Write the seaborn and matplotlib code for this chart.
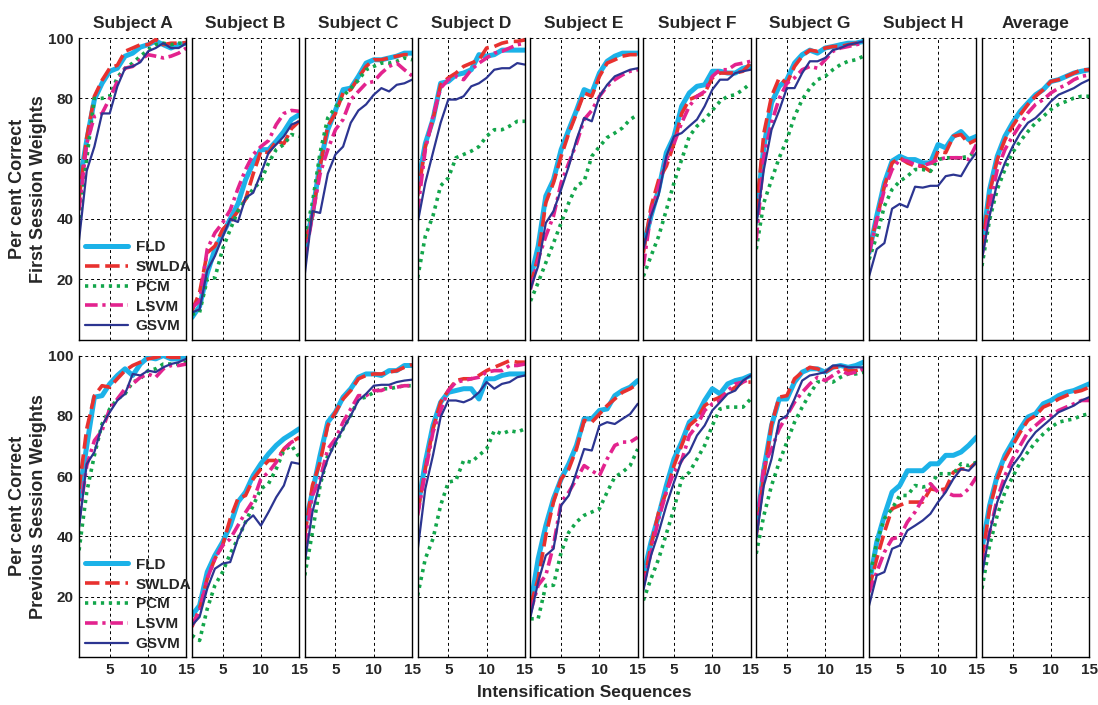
import matplotlib
matplotlib.use("Agg")
import matplotlib.pyplot as plt
import seaborn as sns

# -------------------------------
# Data (per cent correct, sequences 1..15)
# -------------------------------
seq = list(range(1, 16))
subjects = ["Subject A", "Subject B", "Subject C", "Subject D", "Subject E",
            "Subject F", "Subject G", "Subject H", "Average"]
methods = ["FLD", "SWLDA", "PCM", "LSVM", "GSVM"]
row_labels = ["Per cent Correct\nFirst Session Weights",
              "Per cent Correct\nPrevious Session Weights"]

# first session weights
fld_first = [
    [51, 66, 79.6, 85, 89, 90, 94, 95, 97, 97.8, 99, 97.8, 96.7, 97.8, 98.3],
    [7.3, 11, 22, 30, 35, 40, 45, 53, 58.6, 63, 63, 65.8, 69, 73, 74.6],
    [30, 42, 58.6, 69.6, 76, 82.9, 83.4, 87.3, 91.7, 92.8, 92.8, 93.4, 94, 95, 95],
    [51, 65, 73, 85, 85.6, 87.8, 88.4, 89.5, 94.5, 94, 94.5, 96, 96, 96, 96],
    [20, 31, 47.6, 53, 63, 69.6, 76, 82.9, 81.8, 88.4, 92.3, 94, 95, 95, 95],
    [31, 41, 49.8, 62, 67.4, 77.4, 81.8, 84, 84.5, 89, 89, 88.4, 88.4, 90, 90.6],
    [41, 64, 78.5, 84, 86.2, 91.7, 94.5, 96, 95, 96.7, 97.2, 97.8, 98.3, 98.3, 98.9],
    [28.8, 41, 52, 59.2, 60.8, 59.7, 59.7, 58.6, 58.6, 64.7, 63.6, 67.4, 69, 66.3, 67.4],
    [31, 49.8, 60.8, 67.4, 71.9, 75.7, 78.5, 81.2, 82.9, 85.6, 86.2, 87.3, 88.4, 89, 89.5],
]
swlda_first = [
    [46.5, 67, 80.7, 86, 90, 91, 95.6, 96.7, 97.8, 97.8, 99.5, 97.8, 98.3, 98.3, 98.5],
    [9.5, 15.6, 28.8, 31, 36.5, 39, 42.6, 46.5, 55, 62.5, 62, 65.8, 65, 70, 72.4],
    [32, 41, 57.5, 70.8, 75, 81.8, 82.9, 86.8, 90.6, 92.8, 92.8, 93.4, 94, 94.5, 94.5],
    [47.6, 64, 73, 84.5, 86.8, 88.4, 90.6, 91.7, 92.8, 96.7, 97.2, 98.3, 98.9, 98.9, 99.4],
    [17.8, 27.7, 45.4, 52, 60.8, 68.5, 75, 81.8, 80.7, 87.3, 91.7, 92.8, 94, 94.5, 94.5],
    [28.8, 44, 53, 57.5, 65, 75, 79.6, 80.7, 81.8, 86.8, 88.4, 88.4, 88.4, 89, 91.7],
    [42, 68.5, 80.7, 86.8, 85, 90.6, 94, 96, 95.6, 96.7, 97.2, 97.2, 97.8, 98.3, 98.3],
    [29.4, 40, 51, 58.6, 60.3, 58.6, 57.5, 57.5, 55.8, 62.5, 62, 67.4, 68, 65, 66.3],
    [30, 48.7, 59.7, 66.3, 70.8, 74.6, 78, 80.7, 82.9, 85.6, 86.2, 87.3, 88.4, 89.5, 89.5],
]
pcm_first = [
    [37.6, 60, 80, 80, 80.7, 87, 90, 91.7, 94, 96, 97.8, 98.3, 97.8, 98.3, 98.3],
    [8.4, 9, 20, 20.5, 30, 36.5, 42.6, 46.5, 50, 52.5, 58.6, 63, 64.7, 68, 67.4],
    [34, 45.4, 62, 73.5, 77, 80.7, 83.4, 86, 89.5, 90.6, 91.7, 91.7, 92.3, 93.4, 92.8],
    [20.5, 34.3, 41, 51, 53.6, 60.3, 61.4, 62.5, 64, 67.4, 69.6, 69.6, 70.8, 72.4, 72.4],
    [12.8, 18.9, 25.5, 32, 38.7, 45.4, 51, 52.5, 60.8, 64, 67, 68.5, 70.2, 73, 74.6],
    [21, 27.7, 34.3, 43, 52, 59.7, 67.4, 70.8, 73, 76, 79, 80.7, 81.2, 82.9, 85],
    [30, 45.4, 53, 60.3, 66.3, 74, 79.6, 83.4, 86.2, 87.3, 89.5, 91.2, 92.3, 92.8, 94],
    [26.6, 34.3, 44.3, 49.8, 52.5, 54.2, 56.4, 56.4, 55.8, 59.7, 60.3, 60.3, 60.3, 60.8, 62.5],
    [24.4, 39.8, 49.8, 56.4, 62, 65.8, 69, 71.9, 74, 76.3, 78, 79, 80.1, 80.7, 80.7],
]
lsvm_first = [
    [43, 65, 74, 75, 80, 85.6, 90, 90.6, 92.8, 94.5, 94, 93.4, 94, 95, 96.7],
    [10.6, 12.8, 30, 35.4, 38.7, 43, 50, 56.4, 61.4, 64, 66, 71.3, 75, 76, 75.7],
    [26.6, 41, 55, 63, 69.6, 73, 79.6, 82.3, 85, 85.6, 88.4, 90.6, 91.7, 89.5, 87.5],
    [42.6, 63, 74, 83.4, 86.2, 87.3, 86.2, 89.5, 91.7, 93.4, 95, 95.6, 96.7, 97.8, 98.3],
    [16.7, 26.6, 34.3, 41, 52, 58.6, 65, 73, 76, 80.7, 84, 86.2, 87.8, 89, 89.5],
    [24.4, 42, 51, 59.7, 65, 71.9, 77.4, 80.7, 82.3, 87.3, 89.5, 89.5, 91.2, 91.7, 92.3],
    [33, 60.8, 71.9, 80, 85, 86.8, 89.5, 90.6, 90, 92.8, 95.6, 96.7, 97.2, 97.8, 98.3],
    [28.8, 39.3, 49.8, 56.4, 59.7, 59.2, 58, 57.5, 58.6, 59.7, 60.3, 60.3, 60.3, 59.7, 64.7],
    [27.7, 44.3, 56.4, 63, 67.4, 71.3, 75.2, 78, 79.6, 81.8, 83.4, 84.5, 86.2, 87.3, 87.8],
]
gsvm_first = [
    [33, 56, 64, 75, 75, 84, 90, 90.6, 92, 95.6, 96.7, 98.3, 96.7, 96.7, 98.3],
    [9, 10, 23, 27.7, 34, 40, 39, 47, 48.7, 55, 62, 64.7, 67.4, 71.3, 72.4],
    [21.6, 42.6, 42, 55, 61.4, 64, 71.9, 76, 78, 81.2, 83.4, 82.3, 84.5, 85, 86.2],
    [38.7, 52, 62, 71.9, 79.6, 79.6, 80.7, 84, 85, 86.8, 89.5, 90, 90, 91.7, 91.2],
    [16.7, 24.4, 38.7, 42.6, 49.8, 57.5, 66.3, 73.5, 72.4, 80.7, 84.5, 87.3, 88.4, 89.5, 90],
    [30, 41, 48, 60.8, 67.4, 68.5, 70.8, 73, 77.4, 82.9, 86.2, 86.2, 88.4, 89, 89.5],
    [37.6, 56.4, 69.6, 76, 83.4, 83.4, 88.4, 92.3, 92.3, 93.4, 96, 96.7, 97.8, 98.3, 98.9],
    [21, 30, 32, 43.4, 45, 43.9, 50.7, 50.4, 51, 51, 54.2, 54.7, 54.2, 58.6, 62],
    [26.6, 41, 52, 58.6, 64, 68.5, 71.9, 73.5, 76, 79, 81.2, 82.3, 83.4, 85, 86.2],
]

# previous session weights
fld_prev = [
    [53, 70, 86.2, 86.7, 90.6, 93.4, 95.6, 93.4, 97.2, 99.4, 98.9, 100, 98.9, 98.9, 99.4],
    [13.8, 17.1, 28.2, 33.7, 38.1, 43.6, 51.4, 54.7, 60.2, 64.1, 67.4, 70.2, 72.4, 74, 75.7],
    [43.6, 54.7, 66.9, 77.9, 81.2, 86.2, 89, 92.8, 93.9, 93.9, 93.4, 95, 95, 96.7, 96.7],
    [49.2, 64.6, 76.8, 84.5, 87.8, 88.4, 89, 89, 85.6, 92.3, 92.3, 93.4, 93.9, 93.9, 93.9],
    [17.1, 32.6, 43.6, 52.5, 59.1, 64.1, 70.2, 79, 79, 81.8, 82.3, 86.7, 88.4, 89.5, 91.7],
    [27.1, 38.1, 47, 56.9, 65.7, 71.3, 77.9, 80.1, 85.1, 89, 87.3, 90.6, 91.7, 92.3, 93.4],
    [42.5, 62.4, 76.8, 85.6, 85.6, 91.2, 94.5, 95.6, 95.6, 94.5, 96.1, 96.7, 96.1, 96.7, 97.8],
    [23.8, 38.1, 47, 54.7, 56.9, 61.8, 61.8, 61.8, 64.1, 64.1, 66.9, 66.9, 68, 70.2, 72.9],
    [35.9, 50.3, 60.2, 66.9, 71.3, 75.7, 79.6, 80.7, 84, 85.1, 86.7, 87.8, 88.4, 89.5, 90.6],
]
swlda_prev = [
    [55.8, 75.7, 86.7, 90, 89.5, 92.3, 95, 96.7, 97.8, 98.9, 99.4, 100, 99.4, 99.4, 99.4],
    [10, 16, 26, 32.6, 37, 45.9, 52.5, 53.6, 59.1, 62.4, 65.2, 65.2, 69, 71.3, 72.9],
    [40.3, 56.9, 64.6, 76.8, 81.2, 85.6, 88.4, 92.3, 93.4, 93.9, 93.9, 94.5, 95, 96.1, 97],
    [48, 62.4, 75.7, 84.5, 88.4, 91.7, 92.3, 92.3, 93.4, 95, 96.1, 97.2, 98.3, 97.8, 97.8],
    [17.1, 26, 40.3, 51.4, 59.1, 62.4, 69, 78.5, 77.9, 80.6, 83.4, 85.6, 87.8, 89, 90.6],
    [23.8, 37, 48.1, 54.7, 63.5, 70.2, 76.8, 79, 83.4, 85.1, 86.2, 87.8, 89.5, 91.2, 91.2],
    [40.3, 60.2, 77.3, 86.2, 86.7, 92.3, 94.5, 96.1, 95.6, 94.5, 96.1, 96.1, 95, 95, 95.6],
    [22.7, 32.6, 41.4, 49.2, 50.3, 51.4, 51.4, 51.4, 55.8, 55.3, 55.8, 61.3, 62.4, 62.4, 64.6],
    [32.6, 49.2, 59.1, 65.7, 70.2, 74.6, 78.5, 80.1, 82.9, 84, 85.6, 86.7, 87.8, 88.4, 89.5],
]
pcm_prev = [
    [35.4, 54.7, 66.9, 77.3, 82.3, 85.6, 87.3, 91.2, 92.3, 95, 95.6, 97.2, 97.2, 97.2, 97.8],
    [7.2, 5.5, 16, 23.8, 28.2, 34.3, 39.2, 44.8, 50.3, 55.8, 57.5, 62.4, 68.5, 70.2, 66.3],
    [27.1, 41.4, 56.9, 66.9, 70.7, 75.7, 80.1, 85.6, 86.2, 87.8, 89, 89, 89.5, 90, 90],
    [20.4, 32.6, 39.2, 50.3, 58, 58.6, 65.2, 64.6, 66.9, 69, 75.1, 74, 75.1, 74.6, 75.7],
    [12.7, 12.7, 23.8, 23.8, 34.8, 41.4, 44.8, 47, 48.1, 49.2, 54.7, 59.7, 61.3, 63.5, 69],
    [18.8, 26, 32.6, 40.9, 49.2, 59.1, 61.3, 65.7, 70.2, 76.8, 82.3, 82.9, 82.9, 82.9, 85.6],
    [34.3, 47, 56.9, 64.6, 71.3, 77.9, 82.9, 87.3, 91.2, 91.7, 91.2, 92.8, 93.9, 93.9, 94.5],
    [25.4, 38.1, 45.9, 49.2, 53.6, 53.6, 56.9, 56.4, 56.9, 60.8, 60.8, 60.8, 64.1, 63.5, 64.6],
    [22.7, 37, 47, 54.7, 59.7, 64.6, 68, 71.3, 74, 76.2, 77.9, 78.5, 79, 80.1, 80.7],
]
lsvm_prev = [
    [45.9, 63.5, 71.8, 75.1, 82.3, 85.6, 89, 90.6, 92.8, 93.9, 92.8, 95.6, 96.7, 96.7, 97.2],
    [10.5, 15, 26, 32.6, 37, 39.2, 43.6, 48, 51.9, 59.1, 61.3, 64.6, 69, 71.3, 72.4],
    [37, 53.6, 59.1, 69, 72.4, 77.9, 82.3, 86.7, 86.7, 88.4, 88.4, 89.5, 89.5, 90, 90],
    [47, 61.3, 74.6, 81.8, 88.4, 91.2, 91.7, 92.3, 92.8, 94.5, 95, 95, 96.7, 96.7, 97.2],
    [14.9, 23.8, 27.1, 37, 51.4, 54.7, 59.1, 63.5, 61.8, 60.2, 65.7, 70.2, 71.3, 71.3, 72.9],
    [23.8, 34.8, 45.9, 54.7, 61.3, 65.2, 73.5, 76.8, 81.8, 84, 85.1, 88.4, 90.6, 91.2, 92.3],
    [41.4, 63.5, 69, 75.7, 80.1, 84.5, 87.8, 90.6, 92.8, 91.7, 93.4, 95, 93.9, 94.5, 95.6],
    [21.5, 28.2, 34.8, 39.2, 39.8, 44.8, 48.1, 52.5, 57.5, 54.7, 54.7, 53.6, 53.6, 55.8, 59.7],
    [30.4, 41.4, 52.5, 60.2, 65.7, 70.2, 74.6, 76.8, 79, 80.1, 81.8, 82.9, 84, 85.1, 85.1],
]
gsvm_prev = [
    [43, 64, 68, 76.8, 81.2, 85.1, 87.3, 93.9, 93.4, 95, 94.5, 96.1, 97.2, 97.8, 98.9],
    [10.5, 13.3, 22.7, 29.3, 31, 31.5, 39.2, 44.8, 47, 43.6, 48.1, 53, 56.9, 64.6, 64.1],
    [31.5, 48.1, 58, 65.7, 71.3, 75.7, 80.1, 85.1, 87.3, 90, 90.3, 90.3, 91.2, 91.7, 92],
    [35.4, 55.8, 66.9, 79.6, 85.1, 85.1, 84.5, 85.6, 87.8, 91.2, 89, 90.6, 91.2, 92.8, 93.4],
    [13.3, 24.9, 33.7, 35.9, 50.3, 53.6, 61.3, 69, 68.5, 76.8, 77.9, 77.3, 79, 80.6, 84],
    [22.1, 33.7, 41.4, 50.3, 58, 65.2, 68, 73.5, 76.8, 81.8, 84.5, 87.3, 88.4, 91.7, 93.4],
    [39.2, 56.9, 65.7, 78.5, 80.1, 85.6, 91.7, 93.4, 93.9, 94.5, 96.7, 96.7, 96.1, 96.1, 96.1],
    [17.1, 27.1, 28.2, 35.9, 37, 42, 43.6, 45.3, 47.5, 51.4, 54.7, 59.1, 62.4, 61.8, 64.6],
    [27.1, 41.4, 51.4, 58, 63.5, 66.9, 71.3, 74.6, 76.8, 79, 81.2, 82.3, 83.4, 85.1, 86.2],
]

rows = [
    [fld_first, swlda_first, pcm_first, lsvm_first, gsvm_first],
    [fld_prev, swlda_prev, pcm_prev, lsvm_prev, gsvm_prev],
]

# line styles per method
colors = ["#1cb2e8", "#e8312f", "#13a64b", "#e3238e", "#2c3591"]
widths = [3.6, 2.6, 2.6, 2.6, 1.6]
styles = ["-", (0, (4, 1.6)), (0, (0.9, 1.3)), (0, (3.5, 1.3, 0.9, 1.3)), "-"]

# -------------------------------
# Plot
# -------------------------------
sns.set_style("white")
plt.rcParams['font.family'] = ['Liberation Sans', 'DejaVu Sans']
plt.rcParams['font.weight'] = 'bold'

fig, axes = plt.subplots(2, 9, figsize=(10.98, 7.05), dpi=100, sharex=True, sharey=True)
fig.subplots_adjust(left=0.072, right=0.992, top=0.946, bottom=0.068,
                    wspace=0.052, hspace=0.053)

for r in range(2):
    for c in range(9):
        ax = axes[r, c]
        for m in range(5):
            sns.lineplot(x=seq, y=rows[r][m][c], ax=ax, color=colors[m],
                         lw=widths[m], linestyle=styles[m], label=methods[m],
                         legend=False)
        ax.set_xlim(1, 15)
        ax.set_ylim(0, 100)
        ax.set_xticks([5, 10, 15])
        ax.set_yticks([20, 40, 60, 80, 100])
        ax.grid(True, color="black", linestyle=(0, (3, 3)), lw=0.7)
        ax.tick_params(length=0, labelsize=11, pad=4)
        for sp in ["left", "right", "bottom"]:
            ax.spines[sp].set_color("black")
            ax.spines[sp].set_linewidth(1.0)
        ax.spines["top"].set_visible(False)
        if r == 0:
            ax.set_title(subjects[c], fontsize=12.5, fontweight="bold", pad=7)
        if c == 0:
            ax.set_ylabel(row_labels[r], fontsize=13, fontweight="bold",
                          labelpad=1, linespacing=1.25)
            ax.legend(loc="lower left", frameon=False, handlelength=2.8,
                      prop={"weight": "bold", "size": 11}, labelspacing=0.38,
                      borderaxespad=0.0, handletextpad=0.5)
        else:
            ax.set_ylabel("")
        for lab in ax.get_xticklabels() + ax.get_yticklabels():
            lab.set_fontweight("bold")

fig.text(0.532, 0.012, "Intensification Sequences", ha="center",
         fontsize=12.5, fontweight="bold")

plt.savefig("out.png", dpi=100)
